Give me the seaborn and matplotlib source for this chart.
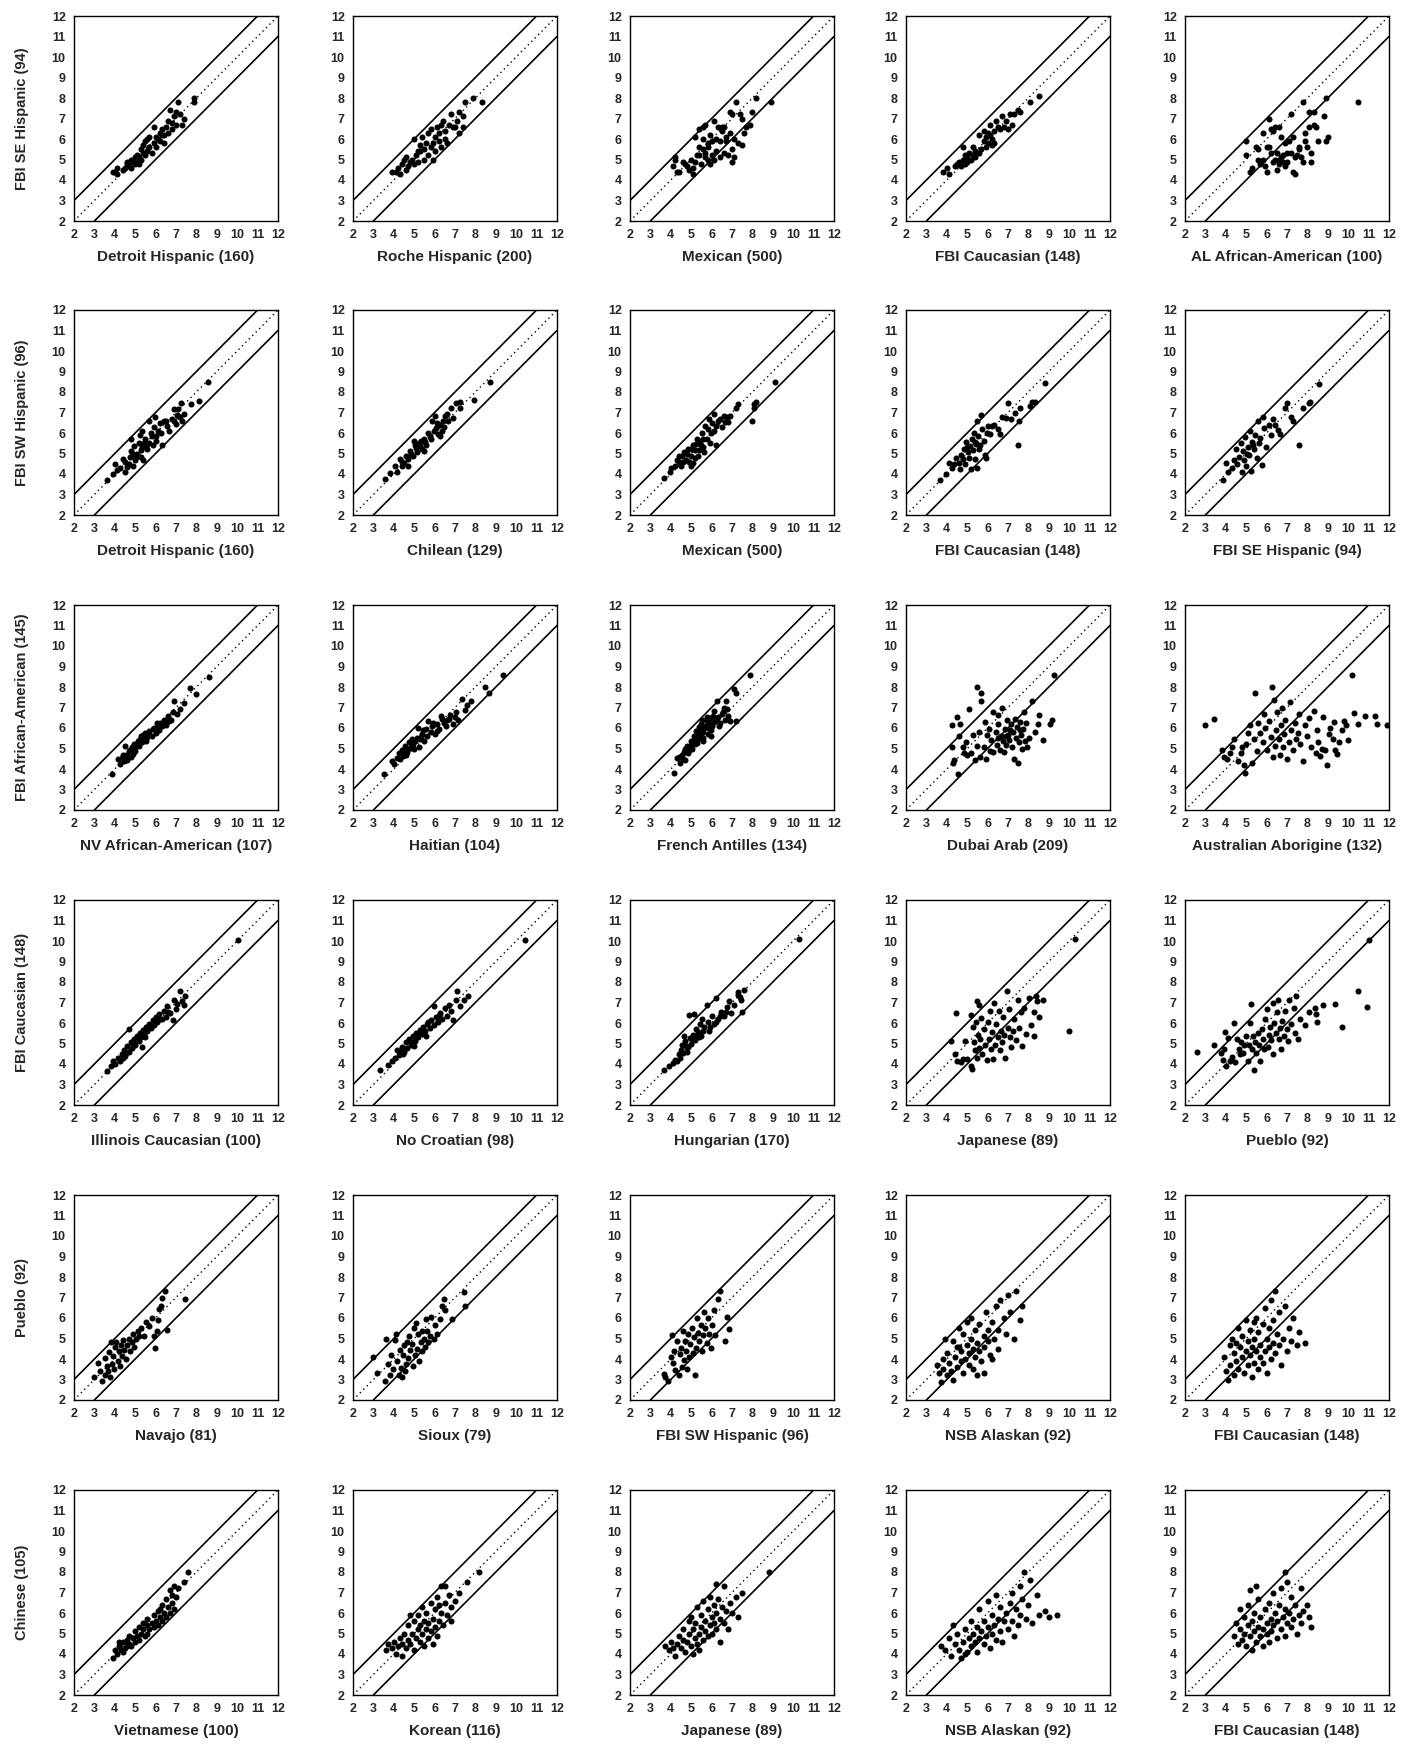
import numpy as np
import pandas as pd
import matplotlib
matplotlib.use("Agg")
import matplotlib.pyplot as plt
import seaborn as sns

# axis titles
row_titles = ["FBI SE Hispanic (94)", "FBI SW Hispanic (96)",
              "FBI African-American (145)", "FBI Caucasian (148)",
              "Pueblo (92)", "Chinese (105)"]
col_titles = [
    ["Detroit Hispanic (160)", "Roche Hispanic (200)", "Mexican (500)",
     "FBI Caucasian (148)", "AL African-American (100)"],
    ["Detroit Hispanic (160)", "Chilean (129)", "Mexican (500)",
     "FBI Caucasian (148)", "FBI SE Hispanic (94)"],
    ["NV African-American (107)", "Haitian (104)", "French Antilles (134)",
     "Dubai Arab (209)", "Australian Aborigine (132)"],
    ["Illinois Caucasian (100)", "No Croatian (98)", "Hungarian (170)",
     "Japanese (89)", "Pueblo (92)"],
    ["Navajo (81)", "Sioux (79)", "FBI SW Hispanic (96)",
     "NSB Alaskan (92)", "FBI Caucasian (148)"],
    ["Vietnamese (100)", "Korean (116)", "Japanese (89)",
     "NSB Alaskan (92)", "FBI Caucasian (148)"],
]
ticks = list(range(2, 13))

# ---- row 1 : FBI SE Hispanic ----
se_detroit = [(4.0, 4.4), (4.1, 4.3), (4.1, 4.6), (3.9, 4.4), (4.4, 4.5), (4.6, 4.8),
              (4.6, 4.9), (4.7, 4.7), (4.8, 5.0), (4.9, 4.9), (5.0, 5.1), (5.0, 4.8),
              (5.1, 4.9), (5.1, 5.2), (5.2, 4.8), (5.3, 5.0), (5.3, 5.5), (5.4, 5.7),
              (5.4, 5.3), (5.5, 5.9), (5.6, 6.0), (5.6, 5.4), (5.7, 5.6), (5.7, 6.1),
              (5.8, 5.3), (5.9, 6.6), (5.9, 5.8), (6.0, 6.1), (6.0, 5.6), (6.2, 6.3),
              (6.2, 5.9), (6.3, 6.5), (6.4, 6.2), (6.4, 5.8), (6.5, 6.6), (6.6, 6.3),
              (6.6, 6.9), (6.7, 7.4), (6.8, 6.8), (6.8, 6.5), (6.9, 7.1), (7.0, 6.7),
              (7.0, 7.3), (7.1, 7.8), (7.2, 7.2), (7.3, 6.7), (7.4, 7.0), (7.9, 7.8),
              (7.9, 8.0), (4.8, 4.6), (5.2, 5.1), (5.5, 5.2), (6.1, 6.0), (6.3, 6.2),
              (4.5, 4.6)]
se_roche = [(3.9, 4.4), (4.1, 4.4), (4.2, 4.6), (4.3, 4.3), (4.4, 4.8), (4.5, 5.0),
            (4.6, 5.1), (4.7, 4.7), (4.8, 4.9), (4.9, 5.0), (5.0, 4.8), (5.0, 6.0),
            (5.1, 5.2), (5.2, 4.9), (5.3, 5.4), (5.3, 5.7), (5.4, 6.1), (5.5, 5.5),
            (5.5, 5.0), (5.6, 5.8), (5.7, 6.3), (5.7, 5.2), (5.8, 6.5), (5.8, 5.6),
            (5.9, 5.0), (6.0, 6.1), (6.0, 5.4), (6.1, 6.6), (6.2, 5.9), (6.2, 6.3),
            (6.3, 5.6), (6.4, 6.9), (6.5, 6.4), (6.5, 6.0), (6.6, 5.8), (6.7, 6.7),
            (6.8, 7.2), (6.9, 6.6), (7.0, 6.6), (7.1, 6.9), (7.2, 7.3), (7.2, 6.3),
            (7.4, 7.1), (7.4, 6.6), (7.5, 7.8), (7.9, 8.0), (8.3, 7.8), (4.6, 4.5),
            (5.2, 5.4), (5.9, 5.8), (6.3, 6.7)]
se_mexican = [(4.1, 4.7), (4.2, 5.1), (4.2, 5.0), (4.3, 4.4), (4.4, 4.4), (4.6, 4.9),
              (4.7, 4.8), (4.8, 4.7), (4.9, 4.5), (5.0, 5.0), (5.1, 4.6), (5.1, 4.3),
              (5.2, 4.9), (5.2, 6.1), (5.4, 5.2), (5.4, 5.6), (5.4, 6.5), (5.5, 4.8),
              (5.6, 5.5), (5.6, 6.0), (5.6, 6.6), (5.7, 5.3), (5.7, 5.1), (5.7, 6.7),
              (5.8, 5.8), (5.8, 5.0), (5.9, 6.2), (5.9, 4.8), (6.0, 5.9), (6.0, 5.2),
              (6.1, 5.0), (6.1, 6.9), (6.2, 5.4), (6.2, 6.0), (6.3, 6.6), (6.4, 5.1),
              (6.4, 5.9), (6.5, 6.4), (6.6, 5.3), (6.6, 6.6), (6.7, 6.1), (6.7, 5.9),
              (6.8, 5.2), (6.9, 7.3), (6.9, 6.3), (7.0, 7.2), (7.0, 5.5), (7.0, 4.9),
              (7.1, 6.0), (7.1, 5.1), (7.2, 7.8), (7.3, 5.8), (7.4, 7.2), (7.5, 5.7),
              (7.5, 7.0), (7.6, 6.3), (7.7, 6.6), (7.9, 6.7), (8.0, 7.3), (8.2, 8.0),
              (8.9, 7.8), (5.3, 5.2), (5.8, 5.6), (6.5, 6.6)]
se_fbicauc = [(3.8, 4.4), (4.0, 4.6), (4.1, 4.3), (4.4, 4.7), (4.5, 4.8), (4.6, 4.9),
              (4.7, 4.7), (4.8, 5.0), (4.8, 5.6), (4.9, 4.8), (5.0, 5.1), (5.0, 4.9),
              (5.1, 5.3), (5.2, 5.0), (5.3, 5.2), (5.3, 5.6), (5.4, 5.4), (5.5, 5.3),
              (5.6, 6.2), (5.6, 5.3), (5.7, 5.5), (5.8, 6.4), (5.8, 5.9), (5.9, 6.1),
              (6.0, 5.8), (6.0, 6.3), (6.1, 6.7), (6.2, 6.0), (6.2, 5.7), (6.3, 6.4),
              (6.3, 5.8), (6.4, 6.9), (6.5, 6.6), (6.6, 6.5), (6.7, 7.1), (6.8, 6.6),
              (6.9, 6.9), (7.0, 6.5), (7.1, 7.2), (7.2, 6.7), (7.3, 7.2), (7.5, 7.4),
              (7.6, 7.3), (8.1, 7.8), (8.5, 8.1), (4.6, 4.8), (4.9, 5.2), (5.4, 5.1),
              (5.9, 5.6), (6.1, 6.2)]
se_alaa = [(5.0, 5.9), (5.0, 5.2), (5.2, 4.4), (5.3, 4.6), (5.5, 5.6), (5.6, 5.0),
           (5.6, 5.5), (5.7, 4.8), (5.8, 6.3), (5.8, 5.0), (5.9, 4.7), (6.0, 4.4),
           (6.1, 5.6), (6.1, 7.0), (6.2, 6.5), (6.2, 5.3), (6.3, 6.4), (6.3, 4.9),
           (6.4, 6.6), (6.4, 5.0), (6.5, 5.3), (6.5, 4.5), (6.6, 6.6), (6.6, 4.8),
           (6.7, 5.1), (6.7, 6.1), (6.8, 4.9), (6.8, 5.2), (6.9, 5.8), (6.9, 4.7),
           (7.0, 5.3), (7.0, 4.9), (7.1, 5.9), (7.2, 7.2), (7.2, 5.3), (7.3, 4.4),
           (7.3, 6.1), (7.4, 4.3), (7.4, 5.1), (7.5, 5.2), (7.6, 5.6), (7.7, 5.1),
           (7.8, 7.8), (7.8, 4.9), (7.9, 5.9), (7.9, 6.3), (8.0, 5.6), (8.1, 7.3),
           (8.1, 6.6), (8.2, 5.3), (8.2, 4.9), (8.3, 7.3), (8.3, 6.7), (8.4, 6.6),
           (8.5, 5.9), (8.8, 7.1), (8.9, 8.0), (8.9, 5.9), (9.0, 6.1), (10.5, 7.8),
           (6.0, 5.6), (6.6, 5.0), (7.6, 5.5)]

# ---- row 2 : FBI SW Hispanic ----
sw_detroit = [(3.6, 3.7), (3.9, 4.0), (4.0, 4.5), (4.1, 4.2), (4.25, 4.3), (4.4, 4.75),
              (4.5, 4.1), (4.6, 4.35), (4.7, 4.5), (4.75, 4.85), (4.8, 5.1), (4.8, 5.7),
              (4.9, 4.4), (4.95, 5.35), (5.0, 4.7), (5.1, 5.0), (5.2, 5.5), (5.25, 5.9),
              (5.3, 4.85), (5.35, 5.3), (5.4, 4.7), (5.5, 5.7), (5.55, 5.3), (5.7, 6.6),
              (5.7, 5.5), (5.8, 5.85), (5.85, 5.4), (5.9, 6.3), (5.95, 6.8), (6.0, 5.85),
              (6.1, 6.1), (6.2, 6.5), (6.3, 5.4), (6.4, 6.6), (6.55, 6.35), (6.65, 6.1),
              (6.8, 6.7), (6.9, 7.15), (7.0, 6.45), (7.05, 6.9), (7.1, 7.15), (7.2, 6.8),
              (7.25, 7.45), (7.3, 6.6), (7.4, 6.95), (7.75, 7.4), (8.15, 7.55), (8.55, 8.5),
              (5.35, 6.1), (4.5, 4.6), (4.9, 5.0), (5.05, 4.85), (5.3, 5.15), (5.45, 5.5),
              (5.6, 5.2), (5.75, 6.0), (6.0, 5.6), (6.25, 6.0), (6.5, 6.6), (6.9, 6.6),
              (7.1, 6.85)]
sw_chilean = [(3.55, 3.75), (3.8, 4.05), (4.05, 4.4), (4.15, 4.1), (4.3, 4.75), (4.4, 4.4),
              (4.5, 4.55), (4.6, 4.9), (4.7, 4.75), (4.8, 5.1), (4.95, 4.9), (5.05, 5.4),
              (5.15, 5.05), (5.25, 5.5), (5.4, 5.2), (5.5, 5.7), (5.6, 5.4), (5.7, 6.0),
              (5.8, 5.7), (5.85, 6.6), (6.0, 6.85), (6.05, 6.25), (6.15, 5.95), (6.25, 6.4),
              (6.35, 6.1), (6.5, 6.85), (6.65, 6.6), (6.8, 7.2), (6.9, 6.75), (7.05, 7.45),
              (7.25, 7.5), (7.25, 7.2), (7.95, 7.6), (8.7, 8.5), (5.0, 5.6), (5.5, 5.1),
              (4.7, 4.4), (6.25, 5.85), (6.45, 6.3), (4.4, 4.6), (4.85, 5.0), (5.1, 5.25),
              (5.3, 5.35), (5.55, 5.55), (5.75, 5.85), (5.95, 6.1), (6.1, 6.5), (6.4, 6.6),
              (6.6, 6.95), (5.35, 5.6)]
sw_mexican = [(3.65, 3.8), (3.95, 4.1), (4.2, 4.4), (4.3, 4.7), (4.4, 4.9), (4.5, 4.4),
              (4.65, 5.05), (4.75, 4.7), (4.85, 5.2), (5.0, 4.4), (5.0, 4.9), (5.1, 5.4),
              (5.1, 4.55), (5.2, 5.15), (5.3, 5.7), (5.35, 4.9), (5.5, 5.4), (5.55, 6.0),
              (5.65, 5.05), (5.7, 6.35), (5.75, 5.7), (5.85, 6.7), (5.95, 6.0), (6.1, 6.95),
              (6.2, 6.35), (6.4, 6.7), (6.6, 6.85), (6.65, 6.55), (6.75, 6.8), (7.2, 7.2),
              (7.3, 7.4), (8.1, 7.4), (8.2, 7.5), (8.1, 7.2), (8.0, 6.6), (6.2, 5.4),
              (9.1, 8.5), (4.0, 4.3), (4.4, 4.6), (4.55, 4.9), (4.6, 4.6), (4.8, 5.0),
              (4.9, 4.6), (5.0, 5.2), (5.2, 4.8), (5.25, 5.45), (5.4, 5.6), (5.4, 5.15),
              (5.6, 5.7), (5.6, 5.3), (5.8, 6.2), (5.9, 5.5), (6.0, 6.5), (6.1, 6.1),
              (6.3, 6.6), (6.5, 6.3), (6.9, 6.85), (6.8, 6.55)]
sw_fbicauc = [(3.65, 3.7), (3.95, 4.0), (4.1, 4.55), (4.25, 4.3), (4.35, 4.5), (4.45, 4.8),
              (4.6, 4.55), (4.65, 4.25), (4.7, 4.95), (4.8, 4.75), (4.85, 5.2), (4.9, 4.5),
              (4.95, 5.55), (5.05, 5.05), (5.1, 4.8), (5.15, 5.35), (5.2, 4.25), (5.25, 5.7),
              (5.3, 5.15), (5.35, 6.0), (5.4, 4.75), (5.45, 5.45), (5.5, 6.6), (5.5, 4.3),
              (5.55, 5.85), (5.6, 5.2), (5.7, 6.9), (5.75, 6.2), (5.8, 5.6), (5.85, 4.95),
              (5.9, 4.8), (5.95, 6.0), (6.0, 6.35), (6.1, 5.95), (6.2, 6.35), (6.3, 6.4),
              (6.5, 6.2), (6.6, 5.95), (6.7, 6.8), (6.9, 6.75), (7.0, 7.45), (7.15, 6.7),
              (7.35, 7.0), (7.55, 6.6), (7.6, 7.2), (7.5, 5.4), (8.1, 7.3), (8.2, 7.5),
              (8.3, 7.5), (8.8, 8.45), (5.0, 5.3), (5.4, 5.55), (5.65, 5.4)]
sw_fbise = [(3.85, 3.7), (4.0, 4.55), (4.1, 4.1), (4.3, 4.3), (4.4, 4.7), (4.5, 5.2),
            (4.55, 4.5), (4.65, 4.85), (4.75, 5.5), (4.8, 4.1), (4.85, 5.1), (4.9, 4.7),
            (4.95, 5.8), (5.0, 4.4), (5.1, 5.3), (5.15, 4.95), (5.2, 6.1), (5.25, 4.15),
            (5.3, 5.55), (5.4, 5.2), (5.45, 5.9), (5.55, 4.8), (5.6, 6.6), (5.65, 5.5),
            (5.75, 4.45), (5.8, 6.8), (5.85, 6.25), (5.95, 5.3), (6.1, 6.4), (6.2, 5.9),
            (6.3, 6.7), (6.4, 6.4), (6.55, 6.15), (6.65, 5.95), (6.9, 7.2), (7.0, 7.45),
            (7.2, 6.8), (7.3, 6.6), (7.6, 5.4), (7.8, 7.2), (8.1, 7.45), (8.15, 7.5),
            (8.55, 8.4), (5.05, 5.0), (5.35, 5.4), (5.7, 5.75)]

# ---- row 3 : FBI African-American ----
aa_nv = [(3.85, 3.75), (4.15, 4.5), (4.25, 4.25), (4.35, 4.55), (4.45, 4.4), (4.55, 4.7),
         (4.7, 4.9), (4.8, 4.6), (4.85, 5.05), (4.95, 5.2), (5.0, 4.9), (5.15, 5.35),
         (5.2, 5.1), (5.3, 5.6), (5.35, 5.3), (5.45, 5.5), (5.5, 5.75), (5.55, 5.35),
         (5.7, 5.85), (5.8, 5.6), (5.9, 6.0), (6.0, 5.75), (6.05, 6.25), (6.15, 5.9),
         (6.3, 6.1), (6.4, 6.4), (6.5, 6.15), (6.6, 6.6), (6.75, 6.4), (6.85, 6.8),
         (6.9, 7.3), (7.05, 6.7), (7.2, 6.95), (7.4, 7.2), (7.7, 7.95), (8.0, 7.65),
         (8.6, 8.5), (4.5, 5.1), (5.05, 5.1), (5.4, 5.65), (5.85, 5.95), (6.2, 6.25),
         (4.6, 4.45), (4.9, 4.75), (5.6, 5.55), (4.4, 4.7), (4.75, 4.95), (5.1, 5.2),
         (5.25, 5.45), (5.65, 5.7), (6.1, 6.05), (6.45, 6.3), (6.65, 6.35)]
aa_haitian = [(3.5, 3.75), (3.9, 4.4), (4.0, 4.25), (4.15, 4.55), (4.25, 4.8), (4.4, 4.95),
              (4.45, 4.65), (4.55, 5.1), (4.65, 4.85), (4.75, 5.3), (4.85, 5.05), (4.95, 5.2),
              (5.05, 5.35), (5.15, 5.5), (5.25, 5.05), (5.4, 5.7), (5.5, 5.35), (5.6, 5.95),
              (5.7, 6.35), (5.8, 5.8), (5.85, 6.1), (6.0, 5.7), (6.1, 6.2), (6.2, 5.95),
              (6.3, 6.6), (6.45, 6.25), (6.6, 6.4), (6.75, 6.65), (6.9, 6.2), (7.05, 6.8),
              (7.15, 6.4), (7.35, 7.4), (7.5, 6.9), (7.8, 7.3), (8.45, 8.0), (8.65, 7.7),
              (9.35, 8.6), (5.2, 6.0), (4.6, 4.7), (5.3, 5.45), (4.3, 4.5), (4.5, 4.85),
              (4.7, 5.0), (4.9, 5.45), (5.0, 5.0), (5.35, 5.55), (5.45, 5.9), (5.65, 5.6),
              (5.9, 6.25), (6.1, 5.85), (6.35, 6.45), (6.55, 6.1), (6.7, 6.45), (7.0, 6.55),
              (7.6, 7.1)]
aa_french = [(4.15, 3.8), (4.3, 4.55), (4.45, 4.3), (4.55, 4.7), (4.65, 4.85), (4.7, 4.45),
             (4.8, 5.1), (4.85, 4.8), (5.0, 5.35), (5.05, 5.0), (5.15, 5.6), (5.2, 5.2),
             (5.25, 5.85), (5.35, 5.45), (5.4, 6.05), (5.5, 5.7), (5.55, 6.4), (5.6, 5.35),
             (5.65, 6.0), (5.75, 6.55), (5.8, 5.7), (5.85, 6.25), (5.95, 5.9), (6.1, 6.85),
             (6.2, 6.4), (6.25, 7.3), (6.35, 6.1), (6.5, 6.7), (6.65, 6.4), (6.75, 6.95),
             (7.2, 6.35), (6.7, 7.3), (7.1, 7.9), (7.2, 7.7), (7.9, 8.6), (5.9, 6.15),
             (5.3, 5.25), (4.4, 4.6), (4.6, 4.5), (4.7, 5.0), (4.9, 4.95), (5.0, 5.15),
             (5.1, 5.3), (5.2, 5.45), (5.3, 5.7), (5.4, 5.55), (5.45, 5.9), (5.5, 6.2),
             (5.6, 5.8), (5.7, 6.1), (5.75, 6.35), (5.8, 6.0), (5.9, 6.5), (6.0, 6.1),
             (6.05, 6.6), (6.1, 6.3), (6.3, 6.55), (6.4, 6.25), (6.55, 6.8), (6.6, 7.0),
             (6.8, 6.6), (6.9, 6.35), (5.95, 5.6), (5.6, 5.5)]
aa_dubai = [(4.25, 6.15), (4.25, 5.05), (4.3, 4.3), (4.35, 4.45), (4.5, 6.55), (4.55, 3.75),
            (4.6, 5.6), (4.65, 6.2), (4.8, 5.05), (4.85, 4.8), (4.95, 5.3), (5.0, 4.7),
            (5.1, 6.95), (5.2, 4.8), (5.3, 5.65), (5.4, 4.45), (5.5, 8.0), (5.5, 5.1),
            (5.6, 5.8), (5.65, 4.6), (5.7, 7.7), (5.7, 7.3), (5.8, 5.05), (5.85, 6.3),
            (5.9, 4.5), (5.95, 5.65), (6.05, 5.95), (6.1, 4.9), (6.15, 5.4), (6.25, 6.8),
            (6.25, 4.85), (6.4, 5.8), (6.45, 5.15), (6.5, 6.2), (6.5, 5.5), (6.6, 4.95),
            (6.65, 5.6), (6.7, 7.0), (6.75, 5.35), (6.8, 4.85), (6.85, 5.95), (6.9, 5.15),
            (6.95, 6.4), (7.0, 5.65), (7.05, 5.4), (7.15, 6.2), (7.2, 5.05), (7.25, 5.8),
            (7.3, 4.5), (7.35, 6.45), (7.4, 5.5), (7.45, 6.05), (7.5, 4.3), (7.55, 5.3),
            (7.6, 6.3), (7.65, 5.65), (7.7, 5.0), (7.75, 5.95), (7.8, 6.8), (7.85, 5.35),
            (7.9, 6.25), (7.95, 5.05), (8.05, 5.5), (8.2, 7.3), (8.45, 6.2), (8.5, 6.65),
            (8.7, 5.4), (9.05, 6.2), (9.15, 6.4), (9.25, 8.6), (8.3, 5.8), (6.5, 6.65),
            (7.1, 5.9), (7.6, 5.9), (6.9, 5.6)]
aa_aborig = [(3.0, 6.15), (3.4, 6.45), (3.8, 4.95), (3.9, 4.6), (4.05, 4.5), (4.2, 4.8),
             (4.3, 5.05), (4.4, 5.45), (4.6, 4.4), (4.75, 4.8), (4.8, 5.05), (4.9, 4.2),
             (4.95, 3.8), (5.0, 5.2), (5.1, 5.75), (5.2, 6.15), (5.3, 4.3), (5.4, 5.45),
             (5.45, 7.7), (5.55, 4.9), (5.6, 6.25), (5.7, 5.75), (5.8, 5.3), (5.85, 6.7),
             (5.9, 6.0), (6.0, 4.95), (6.1, 6.35), (6.2, 5.55), (6.25, 8.0), (6.3, 4.6),
             (6.35, 7.35), (6.4, 5.1), (6.45, 5.9), (6.5, 6.8), (6.6, 5.45), (6.65, 4.7),
             (6.7, 6.15), (6.75, 7.0), (6.8, 5.05), (6.85, 5.7), (6.9, 6.4), (7.0, 4.5),
             (7.1, 5.3), (7.15, 7.25), (7.2, 5.9), (7.3, 4.95), (7.4, 6.25), (7.45, 5.45),
             (7.55, 5.75), (7.6, 6.7), (7.65, 5.2), (7.8, 4.4), (7.9, 6.15), (8.0, 5.6),
             (8.1, 6.5), (8.2, 5.05), (8.3, 6.85), (8.4, 4.8), (8.45, 5.9), (8.5, 5.3),
             (8.6, 4.65), (8.7, 5.0), (8.75, 6.55), (8.85, 4.95), (8.95, 4.2), (9.05, 5.7),
             (9.1, 6.0), (9.25, 5.45), (9.3, 6.3), (9.35, 4.95), (9.45, 4.75), (9.55, 5.3),
             (9.7, 5.9), (9.8, 6.35), (9.9, 6.15), (10.0, 5.4), (10.2, 8.6), (10.3, 6.75),
             (10.5, 6.2), (10.8, 6.6), (11.3, 6.6), (11.4, 6.2), (11.9, 6.15)]

# ---- row 4 : FBI Caucasian ----
cau_illinois = [(3.6, 3.65), (3.8, 3.9), (3.9, 4.15), (4.0, 4.0), (4.15, 4.3), (4.25, 4.15),
                (4.35, 4.5), (4.45, 4.7), (4.5, 4.4), (4.6, 4.9), (4.7, 4.6), (4.8, 5.05),
                (4.85, 4.8), (4.95, 5.2), (5.0, 4.95), (5.1, 5.35), (5.2, 5.1), (5.25, 5.5),
                (5.3, 5.3), (5.4, 5.65), (5.45, 5.45), (5.55, 5.8), (5.6, 5.6), (5.7, 5.95),
                (5.75, 5.75), (5.85, 6.15), (5.9, 5.9), (6.0, 6.3), (6.05, 6.05), (6.15, 6.45),
                (6.3, 6.2), (6.4, 6.6), (6.5, 6.3), (6.55, 6.85), (6.7, 6.5), (6.85, 6.15),
                (6.9, 7.1), (7.0, 6.7), (7.05, 6.95), (7.2, 7.55), (7.3, 7.05), (7.45, 7.3),
                (7.4, 6.9), (10.05, 10.05), (4.7, 5.7), (5.35, 4.85), (4.55, 4.55),
                (5.05, 5.15), (5.5, 5.3), (4.4, 4.3), (4.9, 5.0), (5.65, 5.8), (6.2, 6.2),
                (6.6, 6.55)]
cau_croatian = [(3.3, 3.7), (3.7, 3.95), (3.9, 4.15), (4.05, 4.3), (4.15, 4.7), (4.25, 4.45),
                (4.4, 4.85), (4.5, 4.6), (4.6, 5.05), (4.65, 4.8), (4.75, 5.2), (4.85, 4.95),
                (4.95, 5.35), (5.05, 5.1), (5.1, 5.5), (5.2, 5.3), (5.3, 5.65), (5.4, 5.45),
                (5.45, 5.8), (5.55, 5.6), (5.65, 5.95), (5.75, 5.75), (5.8, 6.15), (5.95, 5.9),
                (6.05, 6.3), (6.15, 6.05), (6.25, 6.5), (6.35, 6.2), (6.5, 6.75), (6.6, 6.35),
                (6.7, 6.9), (6.8, 6.6), (6.9, 6.15), (7.05, 7.1), (7.1, 7.55), (7.25, 6.85),
                (7.45, 7.1), (7.65, 7.3), (10.45, 10.05), (5.95, 6.85), (4.45, 4.5),
                (5.0, 4.9), (5.6, 5.35), (4.3, 4.6), (4.8, 5.1), (5.25, 5.45), (5.7, 6.05),
                (6.2, 6.35)]
cau_hungarian = [(3.65, 3.7), (3.9, 3.9), (4.1, 4.05), (4.3, 4.15), (4.45, 4.3), (4.5, 4.7),
                 (4.55, 4.95), (4.6, 4.55), (4.65, 5.35), (4.7, 5.1), (4.85, 4.85), (4.9, 6.4),
                 (4.95, 5.25), (5.0, 5.0), (5.1, 5.4), (5.15, 6.45), (5.2, 5.15), (5.25, 5.7),
                 (5.35, 5.55), (5.45, 5.95), (5.5, 5.35), (5.55, 6.2), (5.65, 5.8), (5.75, 6.9),
                 (5.8, 6.05), (5.85, 5.6), (6.0, 6.35), (6.1, 5.95), (6.2, 7.2), (6.3, 6.2),
                 (6.45, 6.55), (6.6, 6.35), (6.75, 6.8), (6.85, 7.05), (6.95, 6.5), (7.3, 7.35),
                 (7.45, 7.1), (7.5, 6.55), (7.6, 7.6), (7.3, 7.5), (10.3, 10.1), (4.2, 4.2),
                 (4.8, 4.6), (5.4, 5.3), (4.4, 4.5), (4.75, 4.9), (5.05, 5.2), (5.3, 5.35),
                 (5.6, 5.6), (5.9, 5.8), (6.2, 6.05), (6.4, 6.35), (6.7, 6.55), (7.1, 6.9),
                 (7.4, 7.25)]
cau_japanese = [(4.2, 5.1), (4.4, 4.5), (4.45, 6.5), (4.5, 4.15), (4.7, 4.1), (4.8, 4.25),
                (4.9, 5.1), (5.0, 4.25), (5.2, 3.9), (5.25, 3.75), (5.2, 6.4), (5.3, 5.8),
                (5.35, 5.05), (5.4, 4.7), (5.45, 6.05), (5.5, 7.05), (5.5, 4.3), (5.55, 5.4),
                (5.6, 6.9), (5.6, 4.8), (5.65, 5.2), (5.7, 6.25), (5.75, 4.5), (5.8, 5.7),
                (5.85, 4.95), (5.95, 4.2), (6.0, 6.05), (6.05, 5.2), (6.1, 6.6), (6.15, 4.75),
                (6.2, 5.55), (6.25, 4.25), (6.3, 7.0), (6.35, 4.95), (6.4, 5.95), (6.5, 5.3),
                (6.55, 6.6), (6.6, 4.7), (6.65, 5.6), (6.7, 5.05), (6.75, 6.3), (6.8, 5.4),
                (6.85, 4.3), (6.95, 7.55), (7.0, 5.75), (7.05, 6.7), (7.1, 5.3), (7.15, 4.85),
                (7.25, 5.6), (7.3, 6.2), (7.4, 5.15), (7.5, 7.1), (7.55, 5.75), (7.65, 6.55),
                (7.7, 4.9), (7.8, 6.75), (7.9, 5.45), (8.05, 7.2), (8.15, 5.9), (8.25, 6.55),
                (8.35, 7.3), (8.4, 7.05), (8.5, 6.3), (8.7, 7.1), (8.25, 5.35), (10.0, 5.6),
                (10.3, 10.1)]
cau_pueblo = [(2.6, 4.6), (3.4, 4.95), (3.75, 4.55), (3.85, 4.2), (3.9, 4.75), (3.95, 5.55),
              (4.0, 3.9), (4.1, 5.25), (4.2, 4.15), (4.3, 4.35), (4.4, 6.0), (4.45, 4.1),
              (4.55, 5.2), (4.65, 4.75), (4.7, 4.5), (4.75, 5.05), (4.85, 4.55), (4.9, 4.95),
              (5.0, 5.35), (5.1, 4.15), (5.15, 4.95), (5.2, 6.0), (5.25, 6.95), (5.3, 4.75),
              (5.35, 5.35), (5.4, 3.7), (5.45, 5.05), (5.5, 4.55), (5.6, 5.5), (5.65, 4.95),
              (5.7, 4.15), (5.75, 5.7), (5.8, 5.2), (5.85, 4.75), (5.9, 6.2), (6.0, 6.7),
              (6.05, 4.85), (6.1, 5.4), (6.15, 5.8), (6.2, 5.15), (6.3, 4.5), (6.3, 7.0),
              (6.35, 6.0), (6.45, 5.5), (6.5, 6.55), (6.55, 7.1), (6.6, 5.2), (6.65, 5.75),
              (6.7, 4.75), (6.75, 6.1), (6.85, 5.35), (6.9, 6.6), (7.0, 5.7), (7.05, 5.1),
              (7.1, 7.1), (7.2, 5.95), (7.35, 6.75), (7.4, 5.5), (7.45, 7.3), (7.55, 5.2),
              (7.65, 6.2), (7.9, 5.9), (8.1, 6.55), (8.35, 6.75), (8.45, 6.05), (8.4, 6.45),
              (8.75, 6.9), (9.35, 6.95), (9.7, 5.8), (10.5, 7.55), (10.9, 6.8), (11.0, 10.05)]

# ---- row 5 : Pueblo ----
pu_navajo = [(3.0, 3.1), (3.2, 3.8), (3.25, 3.4), (3.35, 2.95), (3.5, 4.05), (3.5, 3.2),
             (3.6, 3.65), (3.65, 3.4), (3.7, 4.35), (3.75, 3.1), (3.8, 4.85), (3.85, 3.75),
             (3.9, 4.15), (3.95, 3.5), (4.0, 4.6), (4.05, 4.85), (4.15, 3.9), (4.2, 4.4),
             (4.25, 3.65), (4.3, 4.7), (4.35, 4.15), (4.4, 4.95), (4.45, 4.45), (4.55, 4.0),
             (4.6, 4.7), (4.7, 5.0), (4.75, 4.4), (4.85, 4.85), (4.9, 5.2), (4.95, 4.6),
             (5.05, 5.0), (5.15, 5.35), (5.2, 5.1), (5.3, 5.5), (5.45, 5.1), (5.55, 5.8),
             (5.7, 5.6), (5.8, 6.0), (5.9, 5.1), (5.95, 4.55), (6.05, 5.35), (6.1, 5.9),
             (6.15, 6.45), (6.25, 6.6), (6.3, 7.0), (6.45, 7.3), (6.55, 5.4), (7.45, 6.95)]
pu_sioux = [(3.0, 4.1), (3.2, 3.3), (3.55, 2.95), (3.6, 5.0), (3.7, 3.75), (3.8, 3.2),
            (3.85, 4.2), (3.95, 3.5), (4.05, 4.95), (4.1, 5.2), (4.15, 3.9), (4.25, 3.2),
            (4.3, 4.45), (4.35, 3.55), (4.4, 3.1), (4.45, 4.2), (4.5, 4.7), (4.55, 3.4),
            (4.6, 3.75), (4.65, 4.85), (4.7, 4.05), (4.75, 5.1), (4.8, 4.45), (4.9, 4.75),
            (4.95, 3.65), (5.0, 5.5), (5.05, 4.2), (5.1, 5.75), (5.15, 4.5), (5.2, 5.2),
            (5.25, 3.9), (5.35, 4.85), (5.4, 5.35), (5.4, 4.4), (5.5, 5.0), (5.55, 4.6),
            (5.6, 5.95), (5.65, 5.35), (5.7, 4.85), (5.75, 5.1), (5.8, 6.05), (5.95, 5.0),
            (6.0, 5.65), (6.1, 5.2), (6.25, 5.95), (6.35, 6.6), (6.45, 6.95), (6.5, 6.4),
            (6.85, 5.95), (7.45, 7.25), (7.5, 6.6)]
pu_fbisw = [(3.65, 3.25), (3.7, 3.1), (3.85, 2.95), (4.0, 4.1), (4.05, 5.15), (4.1, 3.8),
            (4.15, 4.4), (4.2, 3.45), (4.3, 4.9), (4.4, 3.2), (4.45, 4.25), (4.5, 4.55),
            (4.55, 3.6), (4.6, 5.35), (4.65, 3.95), (4.7, 4.9), (4.75, 4.4), (4.8, 3.5),
            (4.85, 5.2), (4.9, 4.1), (4.95, 4.75), (5.05, 5.5), (5.1, 4.3), (5.15, 5.05),
            (5.2, 3.2), (5.25, 4.55), (5.3, 6.0), (5.35, 5.25), (5.4, 4.9), (5.5, 5.65),
            (5.55, 4.4), (5.6, 5.15), (5.65, 6.3), (5.7, 5.5), (5.75, 4.8), (5.8, 6.0),
            (5.85, 5.2), (5.95, 4.55), (6.0, 5.65), (6.1, 6.4), (6.15, 5.15), (6.3, 6.95),
            (6.4, 7.3), (6.65, 4.9), (6.75, 6.05), (6.85, 5.45)]
pu_nsb = [(3.5, 3.7), (3.6, 3.3), (3.7, 2.9), (3.8, 4.0), (3.8, 3.5), (3.9, 5.0),
          (4.0, 3.2), (4.0, 4.3), (4.1, 3.8), (4.2, 3.4), (4.3, 4.9), (4.3, 3.0),
          (4.4, 4.1), (4.5, 3.6), (4.5, 4.6), (4.6, 5.5), (4.7, 3.9), (4.7, 4.4),
          (4.8, 3.3), (4.8, 5.2), (4.9, 4.0), (5.0, 4.7), (5.0, 5.8), (5.1, 3.7),
          (5.1, 4.3), (5.2, 5.0), (5.2, 6.0), (5.3, 4.5), (5.3, 3.5), (5.4, 4.1),
          (5.4, 5.4), (5.5, 4.8), (5.6, 4.4), (5.6, 5.7), (5.7, 3.9), (5.8, 5.1),
          (5.8, 4.6), (5.9, 6.3), (6.0, 4.9), (6.0, 5.4), (6.1, 4.2), (6.2, 5.8),
          (6.3, 5.0), (6.4, 6.6), (6.5, 5.4), (6.5, 4.5), (6.6, 6.9), (6.8, 6.0),
          (6.9, 5.2), (7.0, 7.1), (7.1, 6.3), (7.3, 5.0), (7.4, 7.3), (7.6, 5.9),
          (7.7, 6.6), (5.5, 3.2), (6.2, 4.0), (4.6, 4.6), (5.8, 3.3)]
pu_fbicauc = [(3.9, 4.1), (4.0, 3.4), (4.1, 3.0), (4.2, 4.7), (4.2, 3.7), (4.3, 5.0),
              (4.4, 3.2), (4.4, 4.3), (4.5, 3.9), (4.6, 5.5), (4.6, 3.5), (4.7, 4.6),
              (4.8, 4.1), (4.8, 5.1), (4.9, 3.3), (5.0, 4.4), (5.0, 5.9), (5.1, 3.7),
              (5.1, 4.9), (5.2, 4.2), (5.2, 5.4), (5.3, 3.1), (5.3, 4.6), (5.4, 5.0),
              (5.4, 3.8), (5.5, 4.4), (5.5, 6.0), (5.6, 5.3), (5.6, 3.5), (5.7, 4.7),
              (5.7, 4.1), (5.8, 5.7), (5.8, 3.8), (5.9, 4.4), (5.9, 6.5), (6.0, 5.0),
              (6.0, 3.3), (6.1, 4.6), (6.1, 5.5), (6.2, 4.0), (6.2, 6.9), (6.3, 4.8),
              (6.3, 5.9), (6.4, 4.3), (6.4, 7.3), (6.5, 5.2), (6.6, 4.7), (6.6, 6.3),
              (6.7, 3.7), (6.8, 5.0), (6.9, 6.6), (7.0, 4.4), (7.1, 5.5), (7.2, 4.9),
              (7.3, 6.0), (7.5, 4.7), (7.6, 5.3), (7.9, 4.8), (5.4, 5.8), (4.5, 4.8)]

# ---- row 6 : Chinese ----
ch_viet = [(3.9, 3.8), (4.0, 4.2), (4.1, 4.0), (4.2, 4.4), (4.3, 4.2), (4.4, 4.6),
           (4.4, 4.1), (4.5, 4.3), (4.6, 4.7), (4.7, 4.5), (4.7, 4.9), (4.8, 4.4),
           (4.9, 4.8), (5.0, 5.1), (5.0, 4.6), (5.1, 4.9), (5.2, 5.3), (5.2, 4.7),
           (5.3, 5.0), (5.4, 5.5), (5.4, 5.2), (5.5, 4.9), (5.6, 5.4), (5.6, 5.7),
           (5.7, 5.2), (5.8, 5.5), (5.9, 5.9), (5.9, 5.3), (6.0, 5.6), (6.1, 6.1),
           (6.1, 5.4), (6.2, 5.8), (6.3, 6.4), (6.3, 5.6), (6.4, 6.0), (6.5, 6.7),
           (6.5, 5.8), (6.6, 6.3), (6.7, 7.1), (6.7, 6.0), (6.8, 6.5), (6.9, 7.3),
           (6.9, 6.2), (7.0, 6.8), (7.1, 7.2), (7.4, 7.5), (7.6, 8.0), (4.2, 4.6),
           (4.6, 4.4), (5.6, 5.0), (6.2, 6.2), (6.8, 6.9)]
ch_korean = [(3.6, 4.2), (3.7, 4.5), (3.9, 4.3), (4.0, 4.6), (4.1, 4.0), (4.2, 4.4),
             (4.3, 4.8), (4.4, 3.9), (4.4, 4.5), (4.5, 5.0), (4.6, 4.3), (4.7, 4.7),
             (4.7, 5.4), (4.8, 4.5), (4.9, 5.0), (5.0, 4.2), (5.0, 5.6), (5.1, 4.8),
             (5.2, 5.2), (5.2, 5.9), (5.3, 4.6), (5.3, 5.4), (5.4, 5.0), (5.4, 6.3),
             (5.5, 5.6), (5.5, 4.4), (5.6, 5.2), (5.6, 6.0), (5.7, 5.5), (5.7, 4.8),
             (5.8, 6.5), (5.8, 5.1), (5.9, 5.7), (6.0, 5.3), (6.0, 6.2), (6.1, 4.9),
             (6.1, 6.8), (6.2, 5.6), (6.3, 6.0), (6.3, 7.3), (6.4, 5.4), (6.5, 6.5),
             (6.5, 7.3), (6.6, 5.9), (6.7, 6.9), (6.8, 6.3), (6.8, 5.6), (7.0, 6.6),
             (7.2, 7.0), (7.6, 7.5), (8.2, 8.0), (5.9, 4.5), (6.2, 6.4), (4.8, 5.9)]
ch_japanese = [(3.7, 4.4), (3.9, 4.2), (4.0, 4.6), (4.1, 4.3), (4.2, 3.9), (4.3, 4.5),
               (4.4, 4.9), (4.5, 4.3), (4.6, 4.7), (4.6, 5.2), (4.7, 4.1), (4.8, 4.6),
               (4.9, 5.0), (4.9, 5.6), (5.0, 4.4), (5.1, 5.2), (5.1, 4.0), (5.2, 5.5),
               (5.2, 4.8), (5.3, 6.3), (5.3, 4.5), (5.4, 5.0), (5.5, 5.9), (5.5, 5.3),
               (5.6, 4.7), (5.6, 6.6), (5.7, 5.6), (5.7, 5.1), (5.8, 6.2), (5.8, 4.9),
               (5.9, 5.4), (5.9, 6.8), (6.0, 5.8), (6.0, 5.0), (6.1, 6.4), (6.1, 5.5),
               (6.2, 5.2), (6.2, 6.0), (6.3, 6.7), (6.4, 5.7), (6.4, 4.6), (6.5, 6.3),
               (6.6, 5.5), (6.6, 7.3), (6.7, 6.1), (6.8, 5.2), (6.9, 6.5), (7.0, 6.0),
               (7.2, 6.8), (7.3, 5.8), (7.5, 7.0), (8.8, 8.0), (5.4, 4.2), (6.2, 7.4),
               (5.0, 5.8)]
ch_nsb = [(3.7, 4.4), (3.9, 4.2), (4.1, 4.8), (4.3, 5.4), (4.2, 3.9), (4.4, 4.5),
          (4.5, 5.0), (4.6, 4.2), (4.7, 3.8), (4.8, 4.6), (4.9, 5.2), (5.0, 4.1),
          (5.1, 4.8), (5.2, 5.6), (5.2, 4.4), (5.3, 5.0), (5.4, 4.6), (5.5, 5.3),
          (5.5, 4.1), (5.6, 6.2), (5.6, 4.8), (5.7, 5.1), (5.8, 4.5), (5.8, 5.6),
          (5.9, 4.9), (6.0, 5.3), (6.0, 6.6), (6.1, 4.3), (6.2, 5.0), (6.2, 5.9),
          (6.3, 5.4), (6.4, 6.9), (6.4, 4.7), (6.5, 5.7), (6.6, 5.1), (6.6, 6.3),
          (6.7, 4.6), (6.8, 5.6), (6.9, 6.0), (7.0, 5.2), (7.1, 6.5), (7.2, 5.6),
          (7.2, 7.0), (7.3, 4.9), (7.4, 6.2), (7.5, 5.4), (7.6, 7.3), (7.6, 5.9),
          (7.7, 6.7), (7.8, 8.0), (7.9, 5.7), (8.0, 6.4), (8.1, 7.6), (8.2, 5.5),
          (8.4, 6.9), (8.5, 5.9), (8.8, 6.1), (9.0, 5.8), (9.4, 5.9), (4.9, 4.0)]
ch_fbicauc = [(4.4, 4.9), (4.5, 5.5), (4.6, 4.5), (4.7, 5.2), (4.7, 6.2), (4.8, 4.7),
              (4.9, 5.0), (4.9, 5.8), (5.0, 4.4), (5.1, 5.4), (5.1, 6.4), (5.2, 4.9),
              (5.3, 5.6), (5.3, 4.2), (5.4, 5.1), (5.4, 6.0), (5.5, 4.6), (5.6, 5.3),
              (5.6, 6.7), (5.7, 4.9), (5.7, 5.8), (5.8, 5.2), (5.8, 4.4), (5.9, 6.2),
              (6.0, 5.5), (6.0, 5.0), (6.1, 6.5), (6.1, 4.6), (6.2, 5.7), (6.2, 5.1),
              (6.3, 7.0), (6.3, 5.4), (6.4, 6.0), (6.5, 4.8), (6.5, 5.6), (6.6, 6.4),
              (6.7, 5.2), (6.7, 7.2), (6.8, 5.8), (6.9, 4.9), (6.9, 6.2), (7.0, 5.5),
              (7.0, 7.5), (7.1, 6.0), (7.2, 5.3), (7.2, 6.8), (7.3, 5.7), (7.4, 6.4),
              (7.5, 5.0), (7.6, 5.9), (7.7, 7.2), (7.7, 5.5), (7.8, 6.1), (8.0, 6.4),
              (8.1, 5.8), (8.2, 5.3), (6.9, 8.0), (5.2, 7.1), (5.5, 7.3)]

panel_data = [
    [se_detroit, se_roche, se_mexican, se_fbicauc, se_alaa],
    [sw_detroit, sw_chilean, sw_mexican, sw_fbicauc, sw_fbise],
    [aa_nv, aa_haitian, aa_french, aa_dubai, aa_aborig],
    [cau_illinois, cau_croatian, cau_hungarian, cau_japanese, cau_pueblo],
    [pu_navajo, pu_sioux, pu_fbisw, pu_nsb, pu_fbicauc],
    [ch_viet, ch_korean, ch_japanese, ch_nsb, ch_fbicauc],
]

W, H = 1412, 1750
col_left = [74, 353, 630, 906, 1185]
row_top = [16, 310, 605, 900, 1195, 1490]
ax_w, ax_h = 204, 205

tick_font = ["Liberation Sans Narrow", "Liberation Sans", "DejaVu Sans"]
label_font = ["Liberation Sans", "DejaVu Sans"]


def draw_panel(ax, pts, xlabel, ylabel=None):
    df = pd.DataFrame(pts, columns=["x", "y"])
    sns.scatterplot(data=df, x="x", y="y", ax=ax, color="black", s=19,
                    linewidth=0, legend=False, zorder=3)
    ax.plot([2, 11], [3, 12], color="black", lw=1.2)
    ax.plot([3, 12], [2, 11], color="black", lw=1.2)
    ax.plot([2, 12], [2, 12], color="black", lw=1.0, ls=(0, (1, 2.5)))
    ax.set_xlim(2, 12)
    ax.set_ylim(2, 12)
    ax.set_xticks(ticks)
    ax.set_yticks(ticks)
    ax.set_xticklabels([str(t) for t in ticks], family=tick_font,
                       fontweight="bold", fontsize=9)
    ax.set_yticklabels([str(t) for t in ticks], family=tick_font,
                       fontweight="bold", fontsize=9)
    ax.tick_params(direction="out", length=3, width=0.8, pad=3)
    for sp in ax.spines.values():
        sp.set_visible(True)
        sp.set_color("black")
        sp.set_linewidth(1.0)
    ax.set_xlabel(xlabel, family=label_font, fontweight="bold",
                  fontsize=11, labelpad=6)
    if ylabel:
        ax.set_ylabel(ylabel, family=label_font, fontweight="bold",
                      fontsize=10.5, labelpad=16)
    else:
        ax.set_ylabel("")


def main():
    sns.set_style("white")
    fig = plt.figure(figsize=(W / 100, H / 100), dpi=100)
    for r in range(6):
        for c in range(5):
            rect = [col_left[c] / W, 1 - (row_top[r] + ax_h) / H,
                    ax_w / W, ax_h / H]
            ax = fig.add_axes(rect)
            draw_panel(ax, panel_data[r][c], col_titles[r][c],
                       row_titles[r] if c == 0 else None)
    fig.savefig("out.png", dpi=100, facecolor="white")


if __name__ == "__main__":
    main()
